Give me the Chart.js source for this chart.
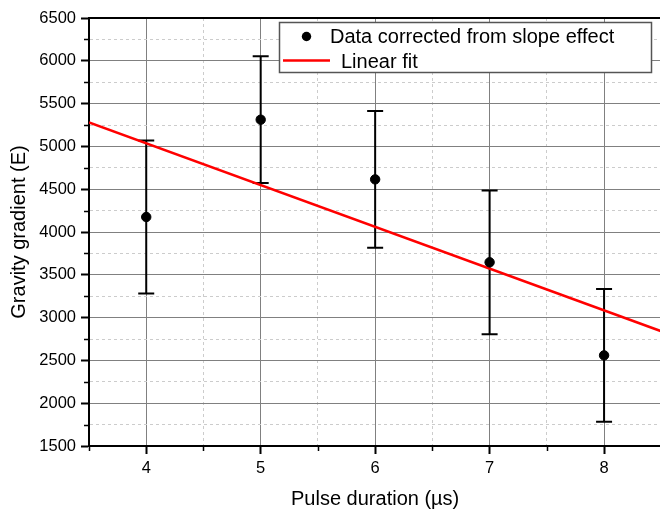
<!DOCTYPE html>
<html>
<head>
<meta charset="utf-8">
<script src="https://cdn.jsdelivr.net/npm/chart.js@4"></script>
<style>
  html, body { margin: 0; padding: 0; overflow: hidden; background: #fff; }
  #wrap { width: 667px; height: 511px; position: relative; }
</style>
</head>
<body>
<div id="wrap"><canvas id="chart"></canvas></div>
<script>
// values
const pulseDuration = [4, 5, 6, 7, 8];
const gradient = [4175, 5312, 4615, 3646, 2559];
const gradientErr = [893, 740, 798, 840, 775];

const fitX = [3.5, 8.5];
const fitY = [5281, 2840];

const FONT = "'Liberation Sans', Arial, sans-serif";
const isMajorX = v => Number.isInteger(v);
const isMajorY = v => v % 500 === 0;

const errorBars = {
    id: "errorBars",
    beforeDatasetsDraw(chart) {
        const { ctx, scales: { x, y } } = chart;
        ctx.save();
        ctx.strokeStyle = "#000";
        ctx.lineWidth = 2;
        pulseDuration.forEach((v, i) => {
            const px = x.getPixelForValue(v);
            const top = y.getPixelForValue(gradient[i] + gradientErr[i]);
            const bot = y.getPixelForValue(gradient[i] - gradientErr[i]);
            ctx.beginPath();
            ctx.moveTo(px, top); ctx.lineTo(px, bot);
            ctx.moveTo(px - 8, top); ctx.lineTo(px + 8, top);
            ctx.moveTo(px - 8, bot); ctx.lineTo(px + 8, bot);
            ctx.stroke();
        });
        ctx.restore();
    }
};

// frame extras: top line, minor ticks, legend inside the plot
const frame = {
    id: "frame",
    afterDraw(chart) {
        const { ctx, chartArea: a, scales: { x, y } } = chart;
        ctx.save();
        ctx.strokeStyle = "#000";
        ctx.lineWidth = 2;
        ctx.beginPath();
        ctx.moveTo(a.left - 1, a.top);
        ctx.lineTo(a.right, a.top);
        ctx.stroke();

        ctx.lineWidth = 1.5;
        ctx.beginPath();
        x.ticks.forEach(t => {
            if (isMajorX(t.value)) return;
            const px = Math.round(x.getPixelForValue(t.value)) + 0.5;
            ctx.moveTo(px, a.bottom); ctx.lineTo(px, a.bottom + 5);
        });
        y.ticks.forEach(t => {
            if (isMajorY(t.value)) return;
            const py = Math.round(y.getPixelForValue(t.value)) + 0.5;
            ctx.moveTo(a.left, py); ctx.lineTo(a.left - 5, py);
        });
        ctx.stroke();

        // legend
        const ds = chart.data.datasets;
        ctx.fillStyle = "#fff";
        ctx.fillRect(279.5, 22.5, 372, 50);
        ctx.strokeStyle = "#555";
        ctx.lineWidth = 1.5;
        ctx.strokeRect(279.5, 22.5, 372, 50);

        ctx.fillStyle = "#000";
        ctx.beginPath();
        ctx.arc(306.5, 36.5, 4.7, 0, Math.PI * 2);
        ctx.fill();
        ctx.strokeStyle = "#ff0000";
        ctx.lineWidth = 2.5;
        ctx.beginPath();
        ctx.moveTo(283, 60.5); ctx.lineTo(330, 60.5);
        ctx.stroke();

        ctx.font = "20px " + FONT;
        ctx.textBaseline = "alphabetic";
        ctx.fillStyle = "#000";
        ctx.fillText(ds[0].label, 330, 42.5);
        ctx.fillText(ds[1].label, 341, 67.5);
        ctx.restore();
    }
};

new Chart(document.getElementById("chart"), {
    type: "scatter",
    data: {
        datasets: [
            {
                label: "Data corrected from slope effect",
                data: pulseDuration.map((v, i) => ({ x: v, y: gradient[i] })),
                backgroundColor: "#000",
                borderColor: "#000",
                pointRadius: 4.7,
                pointHoverRadius: 4.7,
                showLine: false
            },
            {
                label: "Linear fit",
                data: fitX.map((v, i) => ({ x: v, y: fitY[i] })),
                borderColor: "#ff0000",
                backgroundColor: "#ff0000",
                borderWidth: 2.5,
                pointRadius: 0,
                showLine: true
            }
        ]
    },
    options: {
        responsive: true,
        maintainAspectRatio: false,
        animation: false,
        events: [],
        layout: { padding: { top: 18, left: 0, right: 0, bottom: 0 } },
        plugins: { legend: { display: false }, tooltip: { enabled: false } },
        scales: {
            x: {
                type: "linear",
                min: 3.5,
                max: 8.5,
                afterFit: s => { s.height = 65; },
                ticks: {
                    stepSize: 0.5,
                    autoSkip: false,
                    maxRotation: 0,
                    padding: 5,
                    color: "#000",
                    font: { family: FONT, size: 16.5 },
                    callback: v => isMajorX(v) ? v : ""
                },
                grid: {
                    color: c => isMajorX(c.tick.value) ? "#808080" : "#cccccc",
                    lineWidth: 1,
                    tickLength: 8,
                    tickWidth: 2,
                    tickColor: c => isMajorX(c.tick.value) ? "#000" : "rgba(0,0,0,0)"
                },
                border: {
                    color: "#000",
                    width: 2,
                    dash: c => (c.tick && !isMajorX(c.tick.value)) ? [3, 3] : []
                },
                title: {
                    display: true,
                    text: "Pulse duration (µs)",
                    color: "#000",
                    font: { family: FONT, size: 20 },
                    padding: { top: 0, bottom: 0 }
                }
            },
            y: {
                min: 1500,
                max: 6500,
                afterFit: s => { s.width = 89; },
                ticks: {
                    stepSize: 250,
                    autoSkip: false,
                    padding: 5,
                    color: "#000",
                    font: { family: FONT, size: 16.5 },
                    callback: v => isMajorY(v) ? v : ""
                },
                grid: {
                    color: c => isMajorY(c.tick.value) ? "#808080" : "#cccccc",
                    lineWidth: 1,
                    tickLength: 8,
                    tickWidth: 2,
                    tickColor: c => isMajorY(c.tick.value) ? "#000" : "rgba(0,0,0,0)"
                },
                border: {
                    color: "#000",
                    width: 2,
                    dash: c => (c.tick && !isMajorY(c.tick.value)) ? [3, 3] : []
                },
                title: {
                    display: true,
                    text: "Gravity gradient (E)",
                    color: "#000",
                    font: { family: FONT, size: 20 },
                    padding: { top: 7, bottom: 0 }
                }
            }
        }
    },
    plugins: [errorBars, frame]
});
</script>
</body>
</html>
